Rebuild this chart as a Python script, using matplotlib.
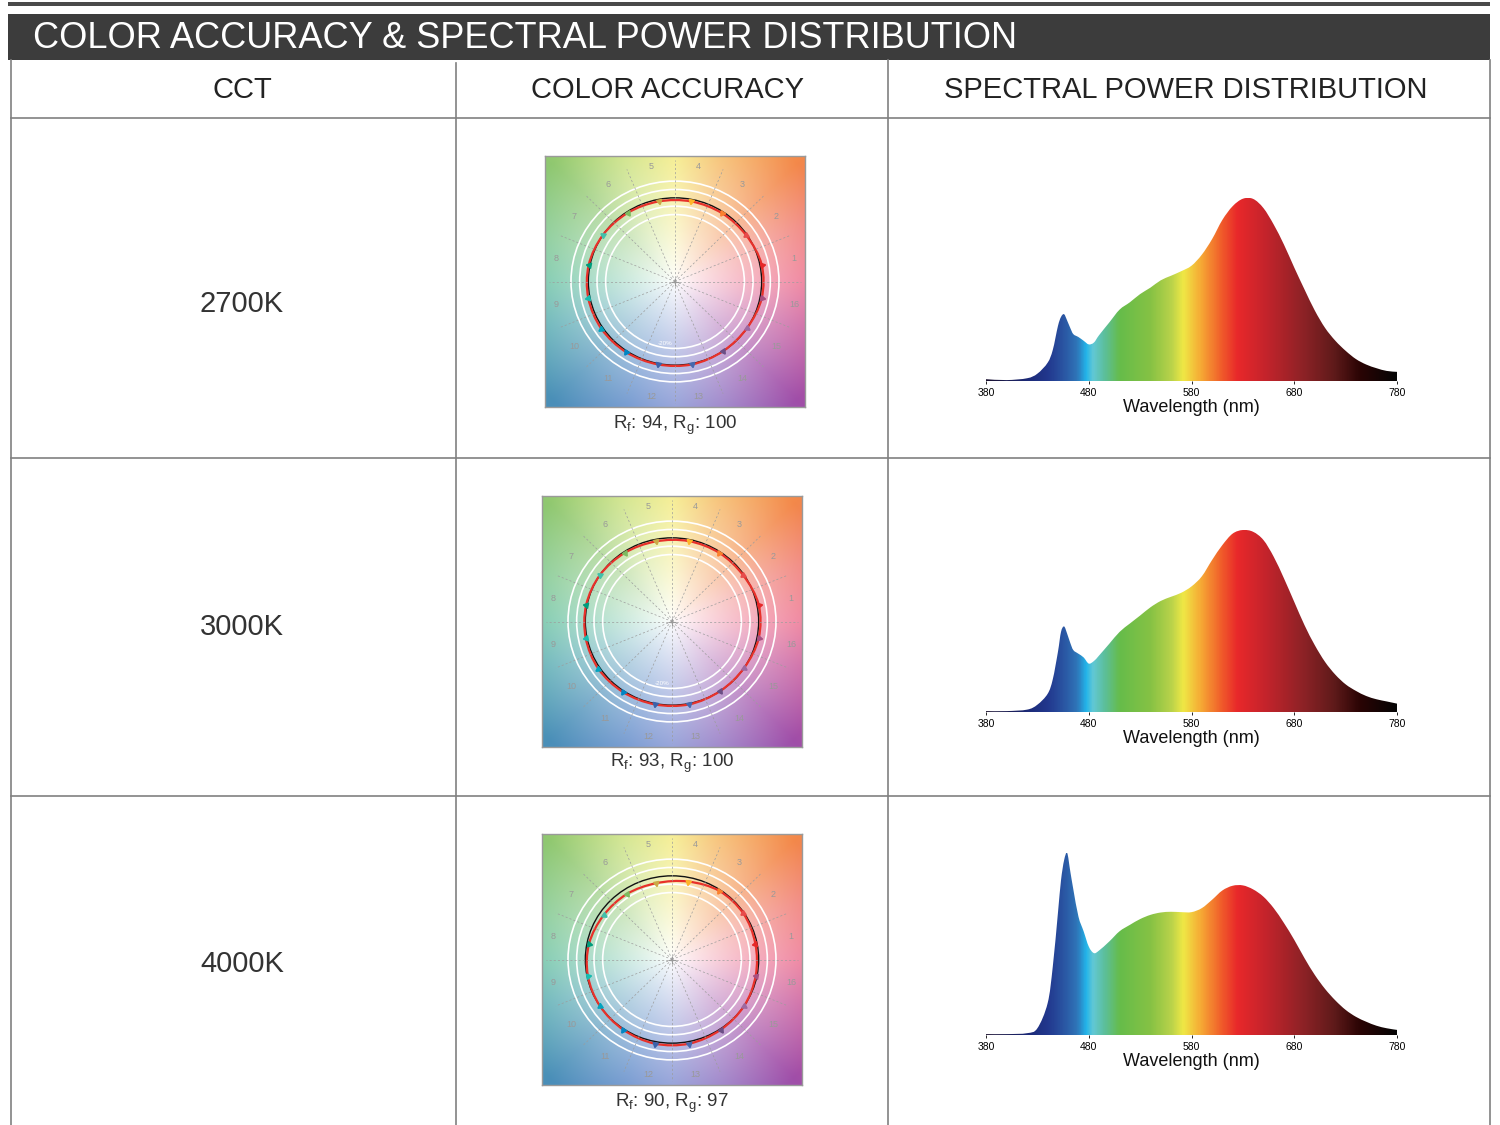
import numpy as np
import matplotlib
matplotlib.use('Agg')
import matplotlib.pyplot as plt
from matplotlib.colors import LinearSegmentedColormap, to_rgb
from matplotlib.patches import Rectangle, Circle, PathPatch
from matplotlib.path import Path

# ---- data -------------------------------------------------------------
title = 'COLOR ACCURACY & SPECTRAL POWER DISTRIBUTION'
headers = ['CCT', 'COLOR ACCURACY', 'SPECTRAL POWER DISTRIBUTION']
cct_labels = ['2700K', '3000K', '4000K']
rf_values = [94, 93, 90]
rg_values = [100, 100, 97]

# TM-30 colour vector graphic: relative chroma of the test source per hue bin
# (reference circle = 1)
hue_bins = list(range(1, 17))
cvg_2700 = [1.02, 0.99, 0.98, 0.975, 0.975, 0.985, 1.00, 1.015,
            1.02, 1.02, 1.015, 1.01, 1.01, 1.00, 1.00, 1.02]
cvg_3000 = [1.02, 0.99, 0.985, 0.98, 0.975, 0.985, 1.00, 1.01,
            1.015, 1.02, 1.015, 1.01, 1.01, 1.00, 1.00, 1.02]
cvg_4000 = [0.98, 0.99, 0.985, 0.95, 0.93, 0.94, 0.95, 0.975,
            0.99, 1.00, 1.01, 1.025, 1.025, 1.01, 1.00, 0.985]
bin_colors = ['#e62828', '#e74b4b', '#fb812e', '#ffb529', '#cba946', '#7ebb60',
              '#41c0ab', '#009c7c', '#16bcb0', '#00a4bf', '#0085c3', '#3b62aa',
              '#4568ae', '#6a4e85', '#9d69a1', '#a74f81']

# relative spectral power (peak = 1)
wavelengths = [380, 400, 420, 430, 440, 445, 450, 453, 456, 459, 462, 465, 470, 475,
               480, 485, 490, 500, 510, 520, 530, 540, 550, 560, 570, 580, 590,
               600, 610, 620, 630, 640, 650, 660, 670, 680, 690, 700, 710, 720,
               730, 740, 750, 760, 770, 780]
spd_2700 = [0.01, 0.005, 0.015, 0.04, 0.10, 0.17, 0.30, 0.35, 0.365, 0.33, 0.29, 0.256,
            0.24, 0.22, 0.20, 0.21, 0.25, 0.32, 0.39, 0.43, 0.475, 0.51, 0.55, 0.575,
            0.60, 0.63, 0.69, 0.775, 0.88, 0.955, 0.996, 0.995, 0.945, 0.855, 0.745,
            0.62, 0.50, 0.385, 0.29, 0.22, 0.165, 0.12, 0.09, 0.07, 0.055, 0.05]
spd_3000 = [0.005, 0.005, 0.013, 0.04, 0.10, 0.18, 0.33, 0.44, 0.47, 0.43, 0.38, 0.34,
            0.32, 0.30, 0.266, 0.28, 0.31, 0.375, 0.44, 0.486, 0.53, 0.575, 0.61, 0.633,
            0.655, 0.69, 0.745, 0.835, 0.917, 0.98, 1.0, 0.99, 0.945, 0.853, 0.734,
            0.605, 0.477, 0.367, 0.275, 0.205, 0.152, 0.116, 0.088, 0.07, 0.058, 0.046]
spd_4000 = [0.005, 0.005, 0.01, 0.037, 0.175, 0.376, 0.67, 0.85, 0.96, 1.0, 0.90, 0.80,
            0.65, 0.57, 0.486, 0.45, 0.464, 0.514, 0.57, 0.605, 0.637, 0.66, 0.673, 0.677,
            0.675, 0.675, 0.697, 0.743, 0.794, 0.82, 0.822, 0.80, 0.76, 0.697, 0.615,
            0.523, 0.422, 0.33, 0.253, 0.19, 0.138, 0.10, 0.073, 0.051, 0.037, 0.028]
wl_ticks = [380, 480, 580, 680, 780]

cvg_data = [cvg_2700, cvg_3000, cvg_4000]
spd_data = [spd_2700, spd_3000, spd_4000]

plt.rcParams['font.family'] = ['Liberation Sans', 'DejaVu Sans']
plt.rcParams['mathtext.fontset'] = 'custom'

# ---- layout (pixels) --------------------------------------------------
W, H = 1500, 1125
col_x = [11, 456, 888, 1490]
header_x = [242, 668, 1186]
row_y = [118, 458, 796, 1125]
row_mid = [304, 627, 964]
cvg_boxes = [(545, 156, 805, 407), (542, 496, 802, 747), (542, 834, 802, 1085)]
cvg_label_y = [425, 763, 1103]
spd_boxes = [(986, 198, 1397, 381), (986, 530, 1397, 712), (986, 853, 1397, 1035)]
line_col = '#808080'

fig = plt.figure(figsize=(15, 11.25), dpi=100)
bg = fig.add_axes([0, 0, 1, 1])
bg.set_xlim(0, W)
bg.set_ylim(H, 0)
bg.axis('off')


def px_axes(box):
    x0, y0, x1, y1 = box
    return fig.add_axes([x0 / W, 1 - y1 / H, (x1 - x0) / W, (y1 - y0) / H])


def bezier_through(pts, closed):
    # Catmull-Rom curve through the points, written as cubic Bezier segments
    n = len(pts)
    verts = [pts[0]]
    codes = [Path.MOVETO]
    last = n if closed else n - 1
    for i in range(last):
        p1, p2 = pts[i], pts[(i + 1) % n]
        p0 = pts[i - 1] if (closed or i > 0) else p1
        p3 = pts[(i + 2) % n] if (closed or i + 2 < n) else p2
        verts += [p1 + (p2 - p0) / 6, p2 - (p3 - p1) / 6, p2]
        codes += [Path.CURVE4] * 3
    return verts, codes


# header bar
bg.add_patch(Rectangle((8, 2), 1482, 4, color='#4a4a4a', lw=0))
bg.add_patch(Rectangle((8, 14), 1482, 46, color='#3c3c3c', lw=0))
bg.text(33, 39, title, color='white', fontsize=26, va='center', ha='left')

# table grid
for x in col_x:
    bg.plot([x, x], [60 if x != 456 else 63, H], color=line_col, lw=1.2)
for y in row_y[:-1]:
    bg.plot([col_x[0], col_x[-1]], [y, y], color=line_col, lw=1.2)

for hx, h in zip(header_x, headers):
    bg.text(hx, 90, h, fontsize=21, color='#222222', ha='center', va='center')

for lab, y in zip(cct_labels, row_mid):
    bg.text(242, y, lab, fontsize=21, color='#333333', ha='center', va='center')

# ---- colour vector graphic ---------------------------------------------
bg_ang = [0, 25, 45, 70, 90, 112, 135, 160, 180, 200, 225, 250, 270, 292, 315, 340, 360]
bg_hex = ['#ec6a8a', '#f07a70', '#f3884a', '#f5b860', '#f3ea78', '#c8e07a', '#90c870',
          '#7cc68c', '#66c0a0', '#55aab0', '#4a8fb8', '#5c88c8', '#7c8cd0', '#9070c0',
          '#a04ea8', '#c8589a', '#ec6a8a']
bg_rgb = np.array([to_rgb(c) for c in bg_hex])


def draw_cvg(ax, chroma, show_pct):
    g = np.linspace(-1.5, 1.5, 400)
    X, Y = np.meshgrid(g, g)
    ang = np.degrees(np.arctan2(Y, X)) % 360
    rgb = np.stack([np.interp(ang, bg_ang, bg_rgb[:, k]) for k in range(3)], axis=-1)
    t = np.clip(np.hypot(X, Y) / 2.0, 0, 1) ** 0.85
    img = 1 - t[..., None] * (1 - rgb)
    ax.imshow(img, extent=(-1.5, 1.5, -1.5, 1.5), origin='lower', aspect='auto',
              interpolation='bilinear')

    for k in range(16):
        a = np.radians(22.5 * k)
        ax.plot([0, 1.45 * np.cos(a)], [0, 1.45 * np.sin(a)], ls=(0, (3, 3)),
                color='#9c9c9c', lw=0.5)
    for r in (0.8, 0.9, 1.1, 1.2):
        ax.add_patch(Circle((0, 0), r, fill=False, ec='white', lw=1.2))
    ax.add_patch(Circle((0, 0), 1.0, fill=False, ec='#111111', lw=1.0))

    theta = np.radians(11.25 + 22.5 * (np.array(hue_bins) - 1))
    c = np.array(chroma)
    px, py = c * np.cos(theta), c * np.sin(theta)
    verts, codes = bezier_through(np.column_stack([px, py]), closed=True)
    ax.add_patch(PathPatch(Path(np.array(verts), codes), fill=False, ec='#e8312a', lw=1.6))
    for b, th, cc, x, y, col in zip(hue_bins, theta, c, px, py, bin_colors):
        d = np.degrees(th) if cc >= 1 else np.degrees(th) + 180
        ax.plot(x, y, marker=(3, 0, d - 90), ms=4.5, color=col, mec=col)
        ax.text(1.4 * np.cos(th), 1.4 * np.sin(th), str(b), fontsize=6.5,
                color='#999999', ha='center', va='center')
    ax.plot(0, 0, marker='+', color='#9a9a9a', ms=6, mew=0.8)
    if show_pct:
        ax.text(-0.12, -0.74, '-20%', fontsize=4.5, color='white', ha='center', va='center')
    ax.set_xlim(-1.5, 1.5)
    ax.set_ylim(-1.5, 1.5)
    ax.set_xticks([])
    ax.set_yticks([])
    for s in ax.spines.values():
        s.set_color('#9a9a9a')
        s.set_linewidth(1.0)


# ---- spectrum ------------------------------------------------------------
spec_wl = [380, 420, 440, 455, 468, 477, 484, 495, 510, 540, 560, 572, 590, 610, 625,
           650, 690, 720, 745, 780]
spec_hex = ['#1a1030', '#1c2a78', '#22388e', '#2a55a2', '#2f75b8', '#22b4ea', '#62c8d4',
            '#5cbf9c', '#66bc4a', '#86c244', '#b8d24a', '#efe845', '#f6a634', '#f05a2a',
            '#e8282a', '#c8242c', '#8c2226', '#5e1a1a', '#2a0404', '#050505']
spec_cmap = LinearSegmentedColormap.from_list(
    'spec', [((w - 380) / 400, c) for w, c in zip(spec_wl, spec_hex)])


def draw_spd(ax, spd):
    grad = spec_cmap(np.linspace(0, 1, 800))[None, :, :3]
    im = ax.imshow(grad, extent=(380, 780, 0, 1), aspect='auto', origin='lower')
    verts, codes = bezier_through(np.column_stack([wavelengths, spd]).astype(float),
                                  closed=False)
    verts = [np.array([wavelengths[0], 0.0])] + verts + [np.array([wavelengths[-1], 0.0]),
                                                        np.array([wavelengths[0], 0.0])]
    codes = [Path.MOVETO] + [Path.LINETO] + codes[1:] + [Path.LINETO, Path.CLOSEPOLY]
    patch = PathPatch(Path(np.array(verts), codes), fc='none', ec='none')
    ax.add_patch(patch)
    im.set_clip_path(patch)
    ax.set_xlim(380, 780)
    ax.set_ylim(0, 1)
    for s in ax.spines.values():
        s.set_visible(False)
    ax.set_yticks([])
    ax.set_xticks(wl_ticks)
    ax.tick_params(axis='x', length=2, width=0.6, pad=3, labelsize=7.5)
    ax.set_xlabel('Wavelength (nm)', fontsize=13, labelpad=1, color='#111111')
    ax.patch.set_alpha(0)


for i in range(3):
    ax = px_axes(cvg_boxes[i])
    draw_cvg(ax, cvg_data[i], i < 2)
    cx = (cvg_boxes[i][0] + cvg_boxes[i][2]) / 2
    bg.text(cx, cvg_label_y[i],
            r'R$_\mathregular{f}$: %d, R$_\mathregular{g}$: %d' % (rf_values[i], rg_values[i]),
            fontsize=13.5, color='#333333', ha='center', va='center')
    draw_spd(px_axes(spd_boxes[i]), spd_data[i])

fig.savefig('out.png', dpi=100)
